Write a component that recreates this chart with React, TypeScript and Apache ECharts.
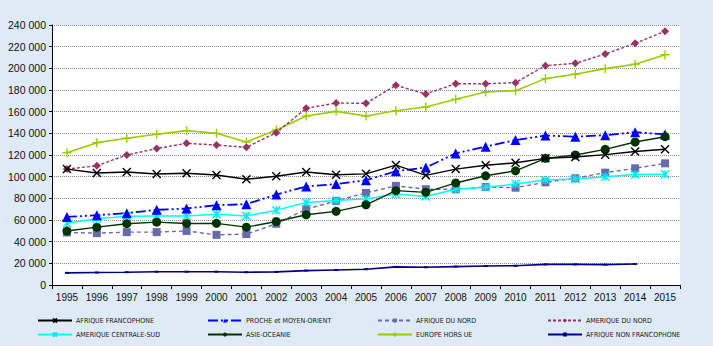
import React, { useEffect, useRef } from "react";
import * as echarts from "echarts";

const years = ["1995","1996","1997","1998","1999","2000","2001","2002","2003","2004","2005","2006","2007","2008","2009","2010","2011","2012","2013","2014","2015"];

const afriqueFrancophone = [107000,103400,104300,102500,103100,101500,97600,100400,104300,101800,102600,110700,101200,107000,110500,112800,116900,118200,120300,123200,125300];
const procheMoyenOrient = [62800,64500,66300,69400,70600,73700,74600,83500,91000,93200,96700,105000,108500,121500,127700,133800,138000,136900,138300,141100,139000];
const afriqueDuNord = [48500,47900,48800,48800,49900,46300,47000,56500,70000,77600,85000,91500,88400,88300,90500,89800,94800,98500,103700,107700,112300];
const ameriqueDuNord = [107000,110100,120000,126000,130800,129200,127100,140600,163100,168000,167700,184300,176300,185800,185800,186800,202500,204600,213200,223100,234200];
const ameriqueCentraleSud = [57100,61100,63400,63600,63600,65200,63800,69100,76100,78000,79500,84100,81600,88400,90200,93200,96900,97800,100000,102000,102200];
const asieOceanie = [49800,53400,56600,58000,56800,56900,53400,58600,64800,68000,74000,87100,85500,94200,100800,105400,116900,120000,125200,132000,136900];
const europeHorsUE = [122100,131400,135400,139100,142500,140000,132000,143100,156000,160300,156000,160900,164300,171400,178200,179400,190500,194500,199700,203700,212600];
const afriqueNonFrancophone = [11200,11500,11800,12300,12300,12300,11800,12100,13300,13900,14600,16700,16400,17000,17500,17800,19000,19000,18800,19400,null];

const yTicks = { min: 0, max: 240000, interval: 20000 };

const X_SYM = "path://M0,0L10,10M10,0L0,10";
const STAR_SYM = "path://M0,0L10,10M10,0L0,10M5,0L5,10";
const PLUS_SYM = "path://M5,0L5,10M0,5L10,5";

const names = [
  "AFRIQUE FRANCOPHONE",
  "PROCHE et MOYEN-ORIENT",
  "AFRIQUE DU NORD",
  "AMERIQUE DU NORD",
  "AMERIQUE CENTRALE-SUD",
  "ASIE-OCEANIE",
  "EUROPE HORS UE",
  "AFRIQUE NON FRANCOPHONE",
];

export default function App() {
  const ref = useRef<HTMLDivElement>(null);
  useEffect(() => {
    if (!ref.current) return;
    const chart = echarts.init(ref.current, null, { renderer: "svg" });

    const strokeSym = (color: string, w = 1.3) => ({
      color: "rgba(0,0,0,0)",
      borderColor: color,
      borderWidth: w,
    });

    const series: any[] = [
      {
        name: names[0],
        data: afriqueFrancophone,
        symbol: X_SYM,
        symbolSize: 8,
        lineStyle: { color: "#000000", width: 1.4 },
        itemStyle: strokeSym("#000000", 1.4),
        z: 5,
      },
      {
        name: names[1],
        data: procheMoyenOrient,
        symbol: "triangle",
        symbolSize: 10,
        lineStyle: { color: "#0000ff", width: 1.8, type: [10, 3, 2, 3, 2, 3] },
        itemStyle: { color: "#0000ff" },
        z: 4,
      },
      {
        name: names[2],
        data: afriqueDuNord,
        symbol: "rect",
        symbolSize: 8,
        lineStyle: { color: "#6a6aa8", width: 1.4, type: [4, 3] },
        itemStyle: { color: "#6a6aa8" },
        z: 2,
      },
      {
        name: names[3],
        data: ameriqueDuNord,
        symbol: "diamond",
        symbolSize: 8,
        lineStyle: { color: "#993366", width: 1.4, type: [3, 2] },
        itemStyle: { color: "#993366" },
        z: 3,
      },
      {
        name: names[4],
        data: ameriqueCentraleSud,
        symbol: STAR_SYM,
        symbolSize: 8,
        lineStyle: { color: "#00ffff", width: 1.5 },
        itemStyle: strokeSym("#00e8f0", 1.4),
        z: 3,
      },
      {
        name: names[5],
        data: asieOceanie,
        symbol: "circle",
        symbolSize: 9,
        lineStyle: { color: "#003300", width: 1.4 },
        itemStyle: { color: "#003300" },
        z: 4,
      },
      {
        name: names[6],
        data: europeHorsUE,
        symbol: PLUS_SYM,
        symbolSize: 9,
        lineStyle: { color: "#99cc00", width: 1.6 },
        itemStyle: strokeSym("#99cc00", 1.4),
        z: 2,
      },
      {
        name: names[7],
        data: afriqueNonFrancophone,
        symbol: "rect",
        symbolSize: [4, 2],
        lineStyle: { color: "#000080", width: 1.6 },
        itemStyle: { color: "#000080" },
        z: 2,
      },
    ].map((s) => ({
      type: "line",
      showSymbol: true,
      connectNulls: false,
      emphasis: { disabled: true },
      ...s,
    }));

    const colX = [37, 207, 377, 547];
    const rowY = [317, 331];
    const legends = names.map((n, i) => ({
      data: [n],
      left: colX[i % 4],
      top: rowY[Math.floor(i / 4)],
      padding: 0,
      itemWidth: 34,
      itemHeight: 5,
      selectedMode: false,
      textStyle: {
        fontFamily: "'Liberation Sans Narrow', 'DejaVu Sans Condensed', Arial, sans-serif",
        fontSize: 7,
        color: "#1a1a1a",
        padding: [0, 0, 0, -1],
      },
    }));

    chart.setOption({
      animation: false,
      backgroundColor: "#dfeaf7",
      legend: legends,
      grid: {
        left: 52,
        right: 33,
        top: 25,
        bottom: 61,
        show: true,
        backgroundColor: "#ffffff",
        borderWidth: 0,
        containLabel: false,
      },
      xAxis: {
        type: "category",
        data: years,
        boundaryGap: true,
        axisLine: { lineStyle: { color: "#000", width: 1 } },
        axisTick: { show: true, length: 4, lineStyle: { color: "#000" } },
        axisLabel: {
          margin: 7,
          fontSize: 10,
          color: "#111",
          fontFamily: "'Liberation Sans', Arial, sans-serif",
        },
      },
      yAxis: {
        type: "value",
        min: yTicks.min,
        max: yTicks.max,
        interval: yTicks.interval,
        axisLine: { show: true, lineStyle: { color: "#000", width: 1 } },
        axisTick: { show: true, length: 3, lineStyle: { color: "#000" } },
        axisLabel: {
          margin: 6,
          fontSize: 10.5,
          color: "#111",
          fontFamily: "'Liberation Sans', Arial, sans-serif",
          formatter: (v: number) =>
            String(v).replace(/\B(?=(\d{3})+(?!\d))/g, " "),
        },
        splitLine: {
          show: true,
          lineStyle: { color: "#8c8c8c", width: 1, type: [1, 1] },
        },
      },
      series,
    });
    return () => chart.dispose();
  }, []);

  return (
    <div
      ref={ref}
      style={{ position: "fixed", left: 0, top: 0, width: 713, height: 346 }}
    />
  );
}
